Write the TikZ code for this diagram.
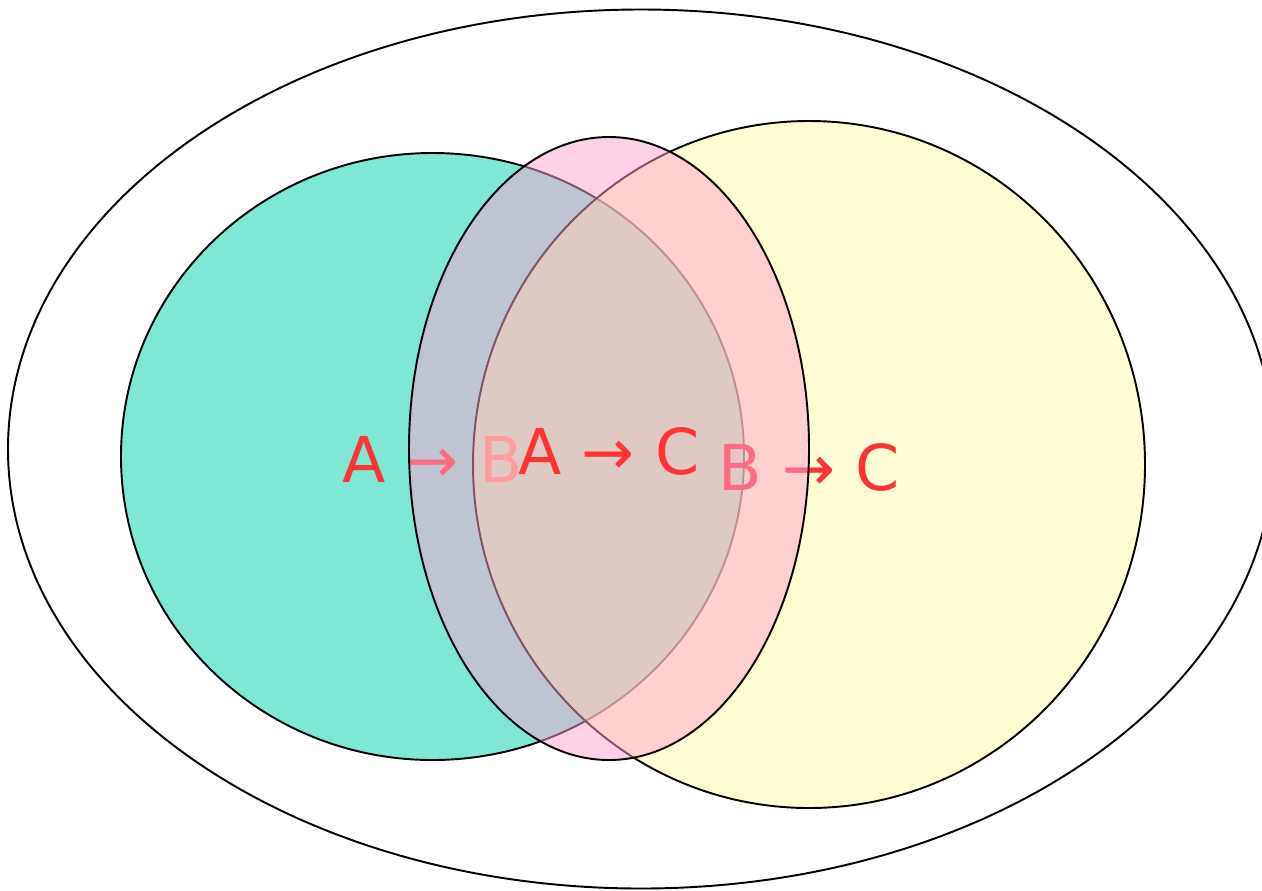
\documentclass[tikz,border=0pt]{standalone}
\usepackage{fontspec}
\setmainfont{DejaVu Sans}
\usepackage{tikz}
\usetikzlibrary{shapes.geometric}
\definecolor{setgreen}{RGB}{127,232,213}
\definecolor{setyellow}{RGB}{255,251,169}
\definecolor{setpink}{RGB}{255,163,205}
\definecolor{lblred}{RGB}{255,51,51}
\tikzset{
  setshape/.style={draw, ellipse, inner sep=0pt, line width=1.1pt,
                   text=lblred, font=\fontsize{36}{40}\selectfont,
                   text height=29.6pt, text depth=0pt},
  greenset/.style={setshape, fill=setgreen},
  yellowset/.style={setshape, fill=setyellow, fill opacity=0.5,
                    text opacity=1},
  pinkset/.style={setshape, fill=setpink, fill opacity=0.5,
                  text opacity=1},
}
\begin{document}
\begin{tikzpicture}
  \useasboundingbox (0,0) rectangle (25.24,-17.8);
  % universe
  \draw[line width=1.1pt] (12.82,-8.98) ellipse [x radius=12.66, y radius=8.79];
  % the three sets, each with its rule
  \node[greenset, minimum width=12.46cm, minimum height=12.14cm]
    (ab) at (8.65,-9.13) {A → B};
  \node[yellowset, minimum width=13.44cm, minimum height=13.74cm]
    (bc) at (16.18,-9.29) {B → C};
  \node[pinkset, minimum width=8.0cm, minimum height=12.46cm]
    (ac) at (12.18,-8.97) {A → C};
\end{tikzpicture}
\end{document}
